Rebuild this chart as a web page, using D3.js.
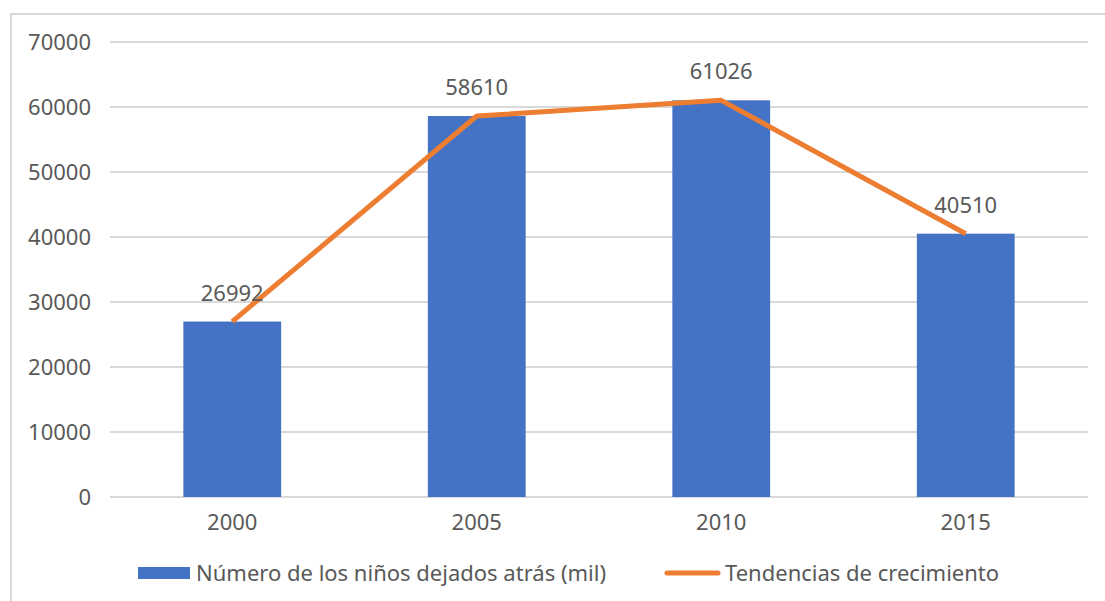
<!DOCTYPE html>
<html lang="en">
<head>
<meta charset="utf-8">
<title>Niños dejados atrás</title>
<style>
  body { margin: 0; padding: 0; overflow: hidden; background: #fff; }
  text { font-family: "Noto Sans", "Liberation Sans", sans-serif; fill: #595959; font-size: 22px; }
  .grid line { stroke: #d9d9d9; stroke-width: 2px; }
</style>
<script src="https://cdn.jsdelivr.net/npm/d3@7/dist/d3.min.js"></script>
</head>
<body>
<script>
var years = ["2000", "2005", "2010", "2015"];
var ninos = [26992, 58610, 61026, 40510];
var yTicks = [0, 10000, 20000, 30000, 40000, 50000, 60000, 70000];
var seriesNames = ["Número de los niños dejados atrás (mil)", "Tendencias de crecimiento"];

var svg = d3.select("body").append("svg")
    .attr("width", 1105)
    .attr("height", 601);

// outer frame (only top and left visible)
svg.append("path")
    .attr("d", "M11,601 L11,14 L1105,14")
    .attr("fill", "none")
    .attr("stroke", "#d9d9d9")
    .attr("stroke-width", 2);

var x = d3.scaleBand().domain(years).range([110, 1088]).paddingInner(0.6).paddingOuter(0.3);
var xc = function(d) { return x(d) + x.bandwidth() / 2; };
var y = d3.scaleLinear().domain([0, 70000]).range([497, 42]);

var grid = svg.append("g").attr("class", "grid");
grid.selectAll("line").data(yTicks).enter().append("line")
    .attr("x1", 110).attr("x2", 1088)
    .attr("y1", function(d) { return y(d); })
    .attr("y2", function(d) { return y(d); });

svg.selectAll(".ytick").data(yTicks).enter().append("text")
    .attr("class", "ytick")
    .attr("x", 91)
    .attr("y", function(d) { return y(d); })
    .attr("dy", "0.36em")
    .attr("text-anchor", "end")
    .text(function(d) { return d; });

svg.selectAll(".bar").data(years).enter().append("rect")
    .attr("class", "bar")
    .attr("x", function(d) { return x(d); })
    .attr("width", x.bandwidth())
    .attr("y", function(d, i) { return y(ninos[i]); })
    .attr("height", function(d, i) { return y(0) - y(ninos[i]); })
    .attr("fill", "#4472c4");

svg.selectAll(".xtick").data(years).enter().append("text")
    .attr("class", "xtick")
    .attr("x", xc)
    .attr("y", 530)
    .attr("text-anchor", "middle")
    .text(function(d) { return d; });

var line = d3.line()
    .x(function(d, i) { return xc(years[i]); })
    .y(function(d) { return y(d); });

svg.append("path")
    .datum(ninos)
    .attr("d", line)
    .attr("fill", "none")
    .attr("stroke", "#ed7d31")
    .attr("stroke-width", 5)
    .attr("stroke-linejoin", "round");

svg.selectAll(".lbl").data(ninos).enter().append("text")
    .attr("class", "lbl")
    .attr("x", function(d, i) { return xc(years[i]); })
    .attr("y", function(d) { return y(d) - 21; })
    .attr("text-anchor", "middle")
    .text(function(d) { return d; });

// legend
var leg = svg.append("g");
leg.append("rect").attr("x", 138).attr("y", 567).attr("width", 52).attr("height", 12).attr("fill", "#4472c4");
leg.append("text").attr("x", 196).attr("y", 581).text(seriesNames[0]);
leg.append("line").attr("x1", 667).attr("x2", 718).attr("y1", 573).attr("y2", 573)
    .attr("stroke", "#ed7d31").attr("stroke-width", 5).attr("stroke-linecap", "round");
leg.append("text").attr("x", 725).attr("y", 581).text(seriesNames[1]);
</script>
</body>
</html>
